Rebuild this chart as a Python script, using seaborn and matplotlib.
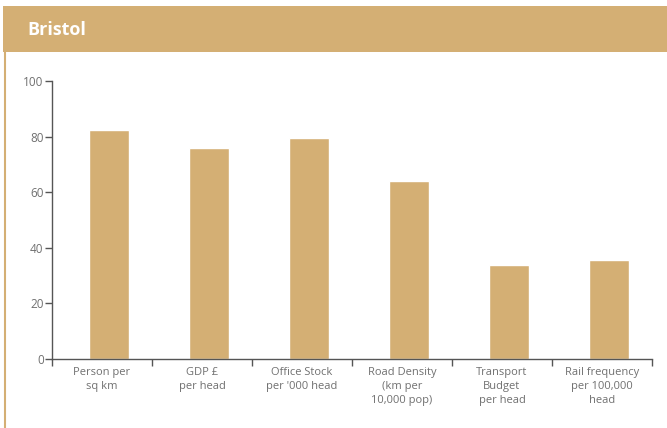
import matplotlib
matplotlib.use("Agg")
import matplotlib.pyplot as plt
from matplotlib.patches import Rectangle
from matplotlib.lines import Line2D
import seaborn as sns
import pandas as pd

# Indicator values (index, 0-100)
categories = [
    "Person per\nsq km",
    "GDP £\nper head",
    "Office Stock\nper '000 head",
    "Road Density\n(km per\n10,000 pop)",
    "Transport\nBudget\nper head",
    "Rail frequency\nper 100,000\nhead",
]
values = [82.5, 76, 79.5, 64, 34, 35.5]
y_ticks = [0, 20, 40, 60, 80, 100]

TAN = "#D4AF74"
AXIS = "#555555"
TEXT = "#707070"

sns.set_theme(style="white")
plt.rcParams["font.family"] = ["Open Sans", "DejaVu Sans"]

W, H = 667, 428
fig = plt.figure(figsize=(W / 100, H / 100), dpi=100)
fig.patch.set_facecolor("white")

# Header band with the city name
fig.patches.append(Rectangle((3 / W, 1 - 52 / H), 1 - 3 / W, 46 / H,
                             transform=fig.transFigure, facecolor=TAN,
                             edgecolor="none", zorder=0))
fig.text(27 / W, 1 - 30 / H, "Bristol", color="white", fontsize=13,
         fontweight="bold", va="center", ha="left")
# Thin frame line down the left side
fig.lines.append(Line2D([4.5 / W, 4.5 / W], [0, 1 - 52 / H],
                        transform=fig.transFigure, color=TAN, lw=1.5))

ax = fig.add_axes([52 / W, 1 - 359 / H, 600 / W, (359 - 81.3) / H])
df = pd.DataFrame({"category": categories, "value": values})
sns.barplot(data=df, x="category", y="value", color=TAN, width=0.4,
            saturation=1, ax=ax)

n = len(categories)
offset = 0.57
ax.set_xlim(-offset, n - offset)
ax.set_ylim(0, 100)
ax.set_yticks(y_ticks)
ax.set_yticklabels([str(t) for t in y_ticks])

# Tick marks at category boundaries, labels at category centres
ax.set_xticks([-offset + k for k in range(n + 1)])
ax.set_xticklabels([])
ax.set_xticks([k + 0.5 - offset for k in range(n)], minor=True)
ax.set_xticklabels(categories, minor=True, linespacing=1.35)
ax.tick_params(axis="x", which="major", length=5, width=1, color=AXIS,
               direction="out", bottom=True)
ax.tick_params(axis="x", which="minor", length=0, pad=6, labelsize=8,
               labelcolor=TEXT)
ax.tick_params(axis="y", length=5, width=1, color=AXIS, direction="out",
               left=True, labelsize=8.5, labelcolor=TEXT, pad=1)

for side in ("top", "right"):
    ax.spines[side].set_visible(False)
for side in ("left", "bottom"):
    ax.spines[side].set_color(AXIS)
    ax.spines[side].set_linewidth(1)

ax.set_xlabel("")
ax.set_ylabel("")
ax.grid(False)
ax.set_facecolor("white")

fig.savefig("out.png", dpi=100)
